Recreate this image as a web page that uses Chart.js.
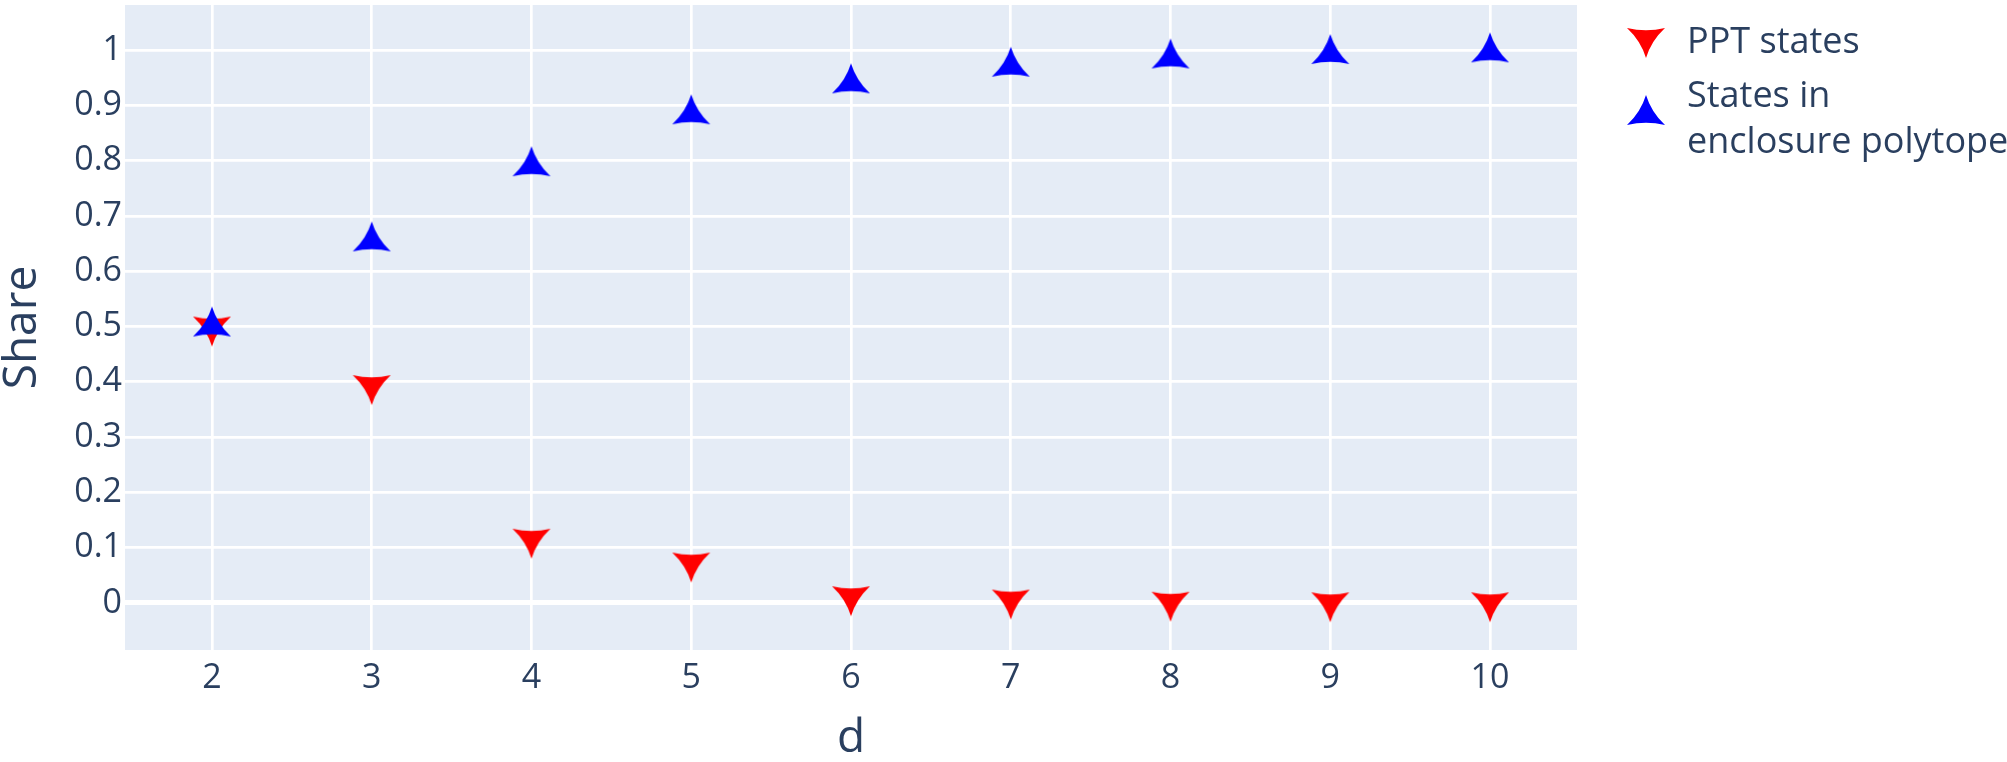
<!DOCTYPE html>
<html>
<head>
<meta charset="utf-8">
<script src="https://cdn.jsdelivr.net/npm/chart.js@4.4.1/dist/chart.umd.min.js"></script>
<style>
  body { margin: 0; background: #fff; }
  canvas { display: block; }
</style>
</head>
<body>
<canvas id="chart" width="2007" height="762"></canvas>
<script>
// datos
const dims = [2, 3, 4, 5, 6, 7, 8, 9, 10];
const pptShare = [0.5, 0.394, 0.116, 0.073, 0.012, 0.006, 0.002, 0.001, 0.001];
const polytopeShare = [0.5, 0.654, 0.79, 0.884, 0.94, 0.97, 0.985, 0.993, 0.996];
const xTicks = [2, 3, 4, 5, 6, 7, 8, 9, 10];
const yTicks = [0, 0.1, 0.2, 0.3, 0.4, 0.5, 0.6, 0.7, 0.8, 0.9, 1];
const seriesNames = ['PPT states', ['States in', 'enclosure polytope']];

const textColor = '#2a3f5f';
const fontFamily = '"Open Sans", verdana, arial, sans-serif';

// marcador triangular con lados cóncavos (centrado en el centroide)
function makeMarker(color, down) {
    const w = 38, h = 30;
    const c = document.createElement('canvas');
    c.width = 44;
    c.height = Math.ceil(4 * h / 3) + 6;
    const g = c.getContext('2d');
    const cx = c.width / 2, cy = c.height / 2;
    const s = down ? -1 : 1;
    const pts = [
        [cx, cy - s * 2 * h / 3],
        [cx + w / 2, cy + s * h / 3],
        [cx - w / 2, cy + s * h / 3]
    ];
    const k = 0.45;
    g.fillStyle = color;
    g.beginPath();
    g.moveTo(pts[0][0], pts[0][1]);
    for (let i = 0; i < 3; i++) {
        const a = pts[i], b = pts[(i + 1) % 3];
        const mx = (a[0] + b[0]) / 2, my = (a[1] + b[1]) / 2;
        const qx = mx + k * (cx - mx), qy = my + k * (cy - my);
        g.quadraticCurveTo(qx, qy, b[0], b[1]);
    }
    g.closePath();
    g.fill();
    return c;
}

const redMarker = makeMarker('#ff0000', true);
const blueMarker = makeMarker('#0000ff', false);

const plotBackground = {
    id: 'plotBackground',
    beforeDraw(chart) {
        const { ctx, chartArea: a } = chart;
        ctx.save();
        ctx.fillStyle = '#E5ECF6';
        ctx.fillRect(a.left, a.top, a.right - a.left, a.bottom - a.top);
        ctx.restore();
    }
};

// leyenda a la derecha, dibujada a mano
const sideLegend = {
    id: 'sideLegend',
    afterDraw(chart) {
        const ctx = chart.ctx;
        ctx.save();
        ctx.drawImage(redMarker, 1646 - redMarker.width / 2, 38 - redMarker.height / 2);
        ctx.drawImage(blueMarker, 1646 - blueMarker.width / 2, 115 - blueMarker.height / 2);
        ctx.fillStyle = textColor;
        ctx.font = '36px ' + fontFamily;
        ctx.textBaseline = 'alphabetic';
        ctx.textAlign = 'left';
        ctx.fillText(seriesNames[0], 1687, 53);
        ctx.fillText(seriesNames[1][0], 1687, 107);
        ctx.fillText(seriesNames[1][1], 1687, 153);
        ctx.restore();
    }
};

const ctx = document.getElementById('chart').getContext('2d');
const chart = new Chart(ctx, {
    type: 'scatter',
    data: {
        datasets: [{
            label: seriesNames[0],
            data: dims.map((d, i) => ({ x: d, y: pptShare[i] })),
            pointStyle: redMarker,
            backgroundColor: '#ff0000',
            order: 1
        }, {
            label: seriesNames[1].join(' '),
            data: dims.map((d, i) => ({ x: d, y: polytopeShare[i] })),
            pointStyle: blueMarker,
            backgroundColor: '#0000ff',
            order: 0
        }]
    },
    options: {
        responsive: false,
        animation: false,
        layout: { padding: { left: 0, right: 430, top: 3, bottom: 0 } },
        plugins: {
            legend: { display: false },
            tooltip: { enabled: false }
        },
        scales: {
            x: {
                type: 'linear',
                min: 1.4554,
                max: 10.5446,
                afterBuildTicks: s => { s.ticks = xTicks.map(v => ({ value: v })); },
                afterFit: s => { s.height = 112; s.paddingLeft = 0; s.paddingRight = 0; },
                grid: { color: '#ffffff', lineWidth: 2.7, drawTicks: false },
                border: { display: false },
                ticks: {
                    color: textColor,
                    padding: 8,
                    font: { family: fontFamily, size: 34 },
                    maxRotation: 0,
                    callback: v => String(v)
                },
                title: {
                    display: true,
                    text: 'd',
                    color: textColor,
                    padding: 0,
                    font: { family: fontFamily, size: 46, lineHeight: 1 }
                }
            },
            y: {
                type: 'linear',
                min: -0.0853,
                max: 1.0817,
                afterBuildTicks: s => { s.ticks = yTicks.map(v => ({ value: v })); },
                afterFit: s => { s.width = 125; s.paddingTop = 0; s.paddingBottom = 0; },
                grid: {
                    color: '#ffffff',
                    lineWidth: c => (c.tick && c.tick.value === 0 ? 5 : 2.7),
                    drawTicks: false
                },
                border: { display: false },
                ticks: {
                    color: textColor,
                    padding: 3,
                    font: { family: fontFamily, size: 34 },
                    callback: v => String(+v.toFixed(1))
                },
                title: {
                    display: true,
                    text: 'Share',
                    color: textColor,
                    padding: 0,
                    font: { family: fontFamily, size: 46, lineHeight: 1 }
                }
            }
        }
    },
    plugins: [plotBackground, sideLegend]
});
</script>
</body>
</html>
